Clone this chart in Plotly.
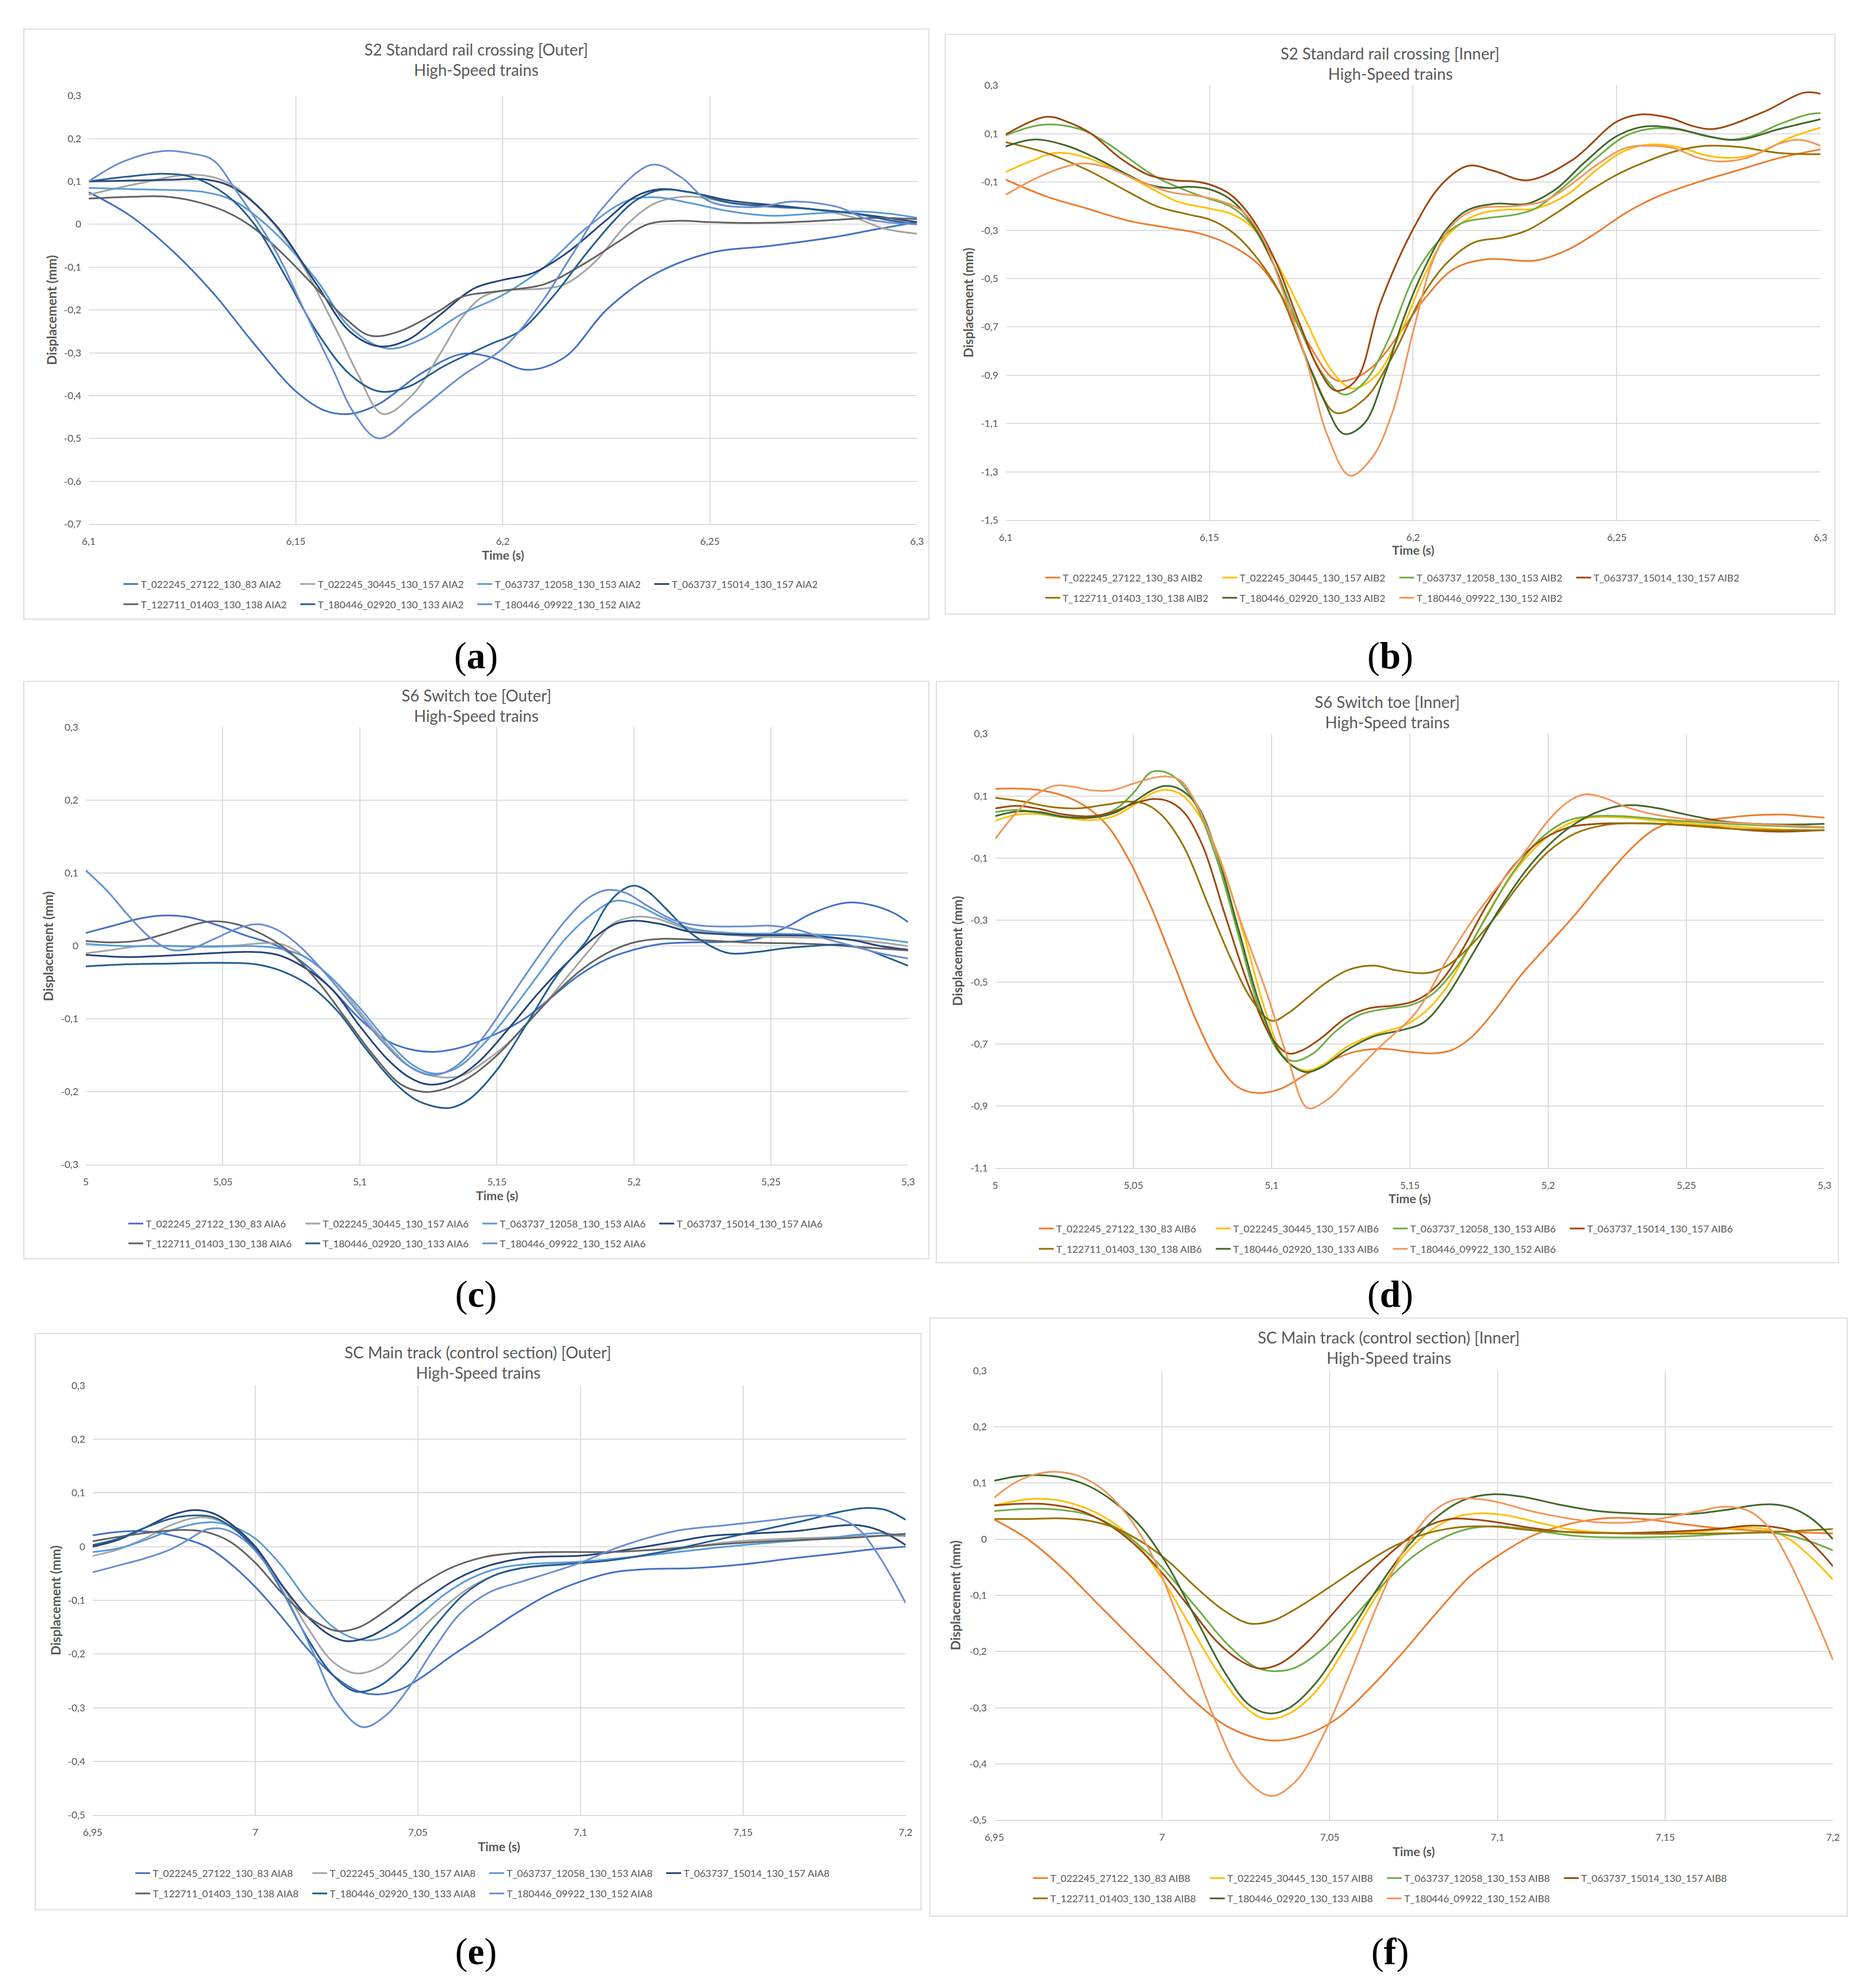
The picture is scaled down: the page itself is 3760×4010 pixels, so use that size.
import plotly.graph_objects as go

W, H = 3760, 4010
# small empirical correction of the page capture (scale/offset)
SX, BX = 0.9917, 17.9
SY, BY = 0.9954, 10.5

# ---------------- data ----------------
TRAIN_IDS = ["T_022245_27122_130_83", "T_022245_30445_130_157", "T_063737_12058_130_153",
             "T_063737_15014_130_157", "T_122711_01403_130_138", "T_180446_02920_130_133",
             "T_180446_09922_130_152"]
OUTER_COLORS = ["#4472C4", "#A5A5A5", "#5B9BD5", "#264478", "#636363", "#255E91", "#698ED0"]
INNER_COLORS = ["#ED7D31", "#FFC000", "#70AD47", "#9E480E", "#997300", "#43682B", "#F1975A"]

# (a) S2 Outer  (time s, displacement mm)
A1 = [(6.1,0.075),(6.11,0.02),(6.12,-0.06),(6.13,-0.16),(6.14,-0.28),(6.15,-0.39),(6.157,-0.435),(6.163,-0.443),(6.17,-0.42),(6.18,-0.35),(6.19,-0.303),(6.197,-0.31),(6.206,-0.34),(6.215,-0.31),(6.225,-0.2),(6.236,-0.12),(6.25,-0.067),(6.265,-0.05),(6.28,-0.03),(6.29,-0.012),(6.3,0.005)]
A2 = [(6.1,0.069),(6.112,0.095),(6.125,0.116),(6.133,0.1),(6.14,0.05),(6.15,-0.07),(6.16,-0.25),(6.165,-0.35),(6.171,-0.443),(6.178,-0.4),(6.185,-0.3),(6.19,-0.22),(6.195,-0.17),(6.2,-0.155),(6.21,-0.15),(6.215,-0.14),(6.222,-0.09),(6.23,0.0),(6.237,0.05),(6.245,0.065),(6.255,0.05),(6.265,0.04),(6.275,0.035),(6.285,0.015),(6.292,-0.01),(6.3,-0.022)]
A3 = [(6.1,0.085),(6.11,0.082),(6.12,0.08),(6.128,0.075),(6.135,0.055),(6.145,-0.02),(6.155,-0.13),(6.163,-0.24),(6.172,-0.29),(6.18,-0.27),(6.19,-0.21),(6.2,-0.165),(6.21,-0.1),(6.22,-0.01),(6.23,0.055),(6.237,0.063),(6.245,0.05),(6.255,0.03),(6.265,0.02),(6.275,0.025),(6.285,0.03),(6.293,0.025),(6.3,0.015)]
A4 = [(6.1,0.1),(6.11,0.102),(6.12,0.104),(6.128,0.105),(6.135,0.085),(6.145,0.0),(6.155,-0.14),(6.163,-0.25),(6.17,-0.285),(6.177,-0.27),(6.185,-0.21),(6.193,-0.15),(6.2,-0.13),(6.207,-0.115),(6.215,-0.07),(6.225,0.01),(6.232,0.065),(6.238,0.082),(6.245,0.075),(6.255,0.055),(6.265,0.045),(6.275,0.035),(6.285,0.025),(6.295,0.012),(6.3,0.005)]
A5 = [(6.1,0.06),(6.11,0.064),(6.118,0.065),(6.125,0.055),(6.133,0.03),(6.14,-0.01),(6.148,-0.08),(6.155,-0.15),(6.162,-0.22),(6.168,-0.26),(6.175,-0.25),(6.185,-0.2),(6.19,-0.17),(6.2,-0.155),(6.21,-0.14),(6.22,-0.09),(6.228,-0.04),(6.235,0.0),(6.242,0.008),(6.25,0.005),(6.26,0.003),(6.27,0.005),(6.28,0.01),(6.29,0.015),(6.3,0.012)]
A6 = [(6.1,0.1),(6.11,0.112),(6.118,0.118),(6.125,0.11),(6.133,0.07),(6.14,0.0),(6.148,-0.13),(6.155,-0.25),(6.163,-0.35),(6.17,-0.39),(6.177,-0.38),(6.186,-0.33),(6.197,-0.28),(6.204,-0.25),(6.212,-0.17),(6.22,-0.07),(6.227,0.01),(6.232,0.055),(6.238,0.08),(6.245,0.075),(6.255,0.05),(6.265,0.042),(6.275,0.035),(6.285,0.025),(6.293,0.01),(6.3,0.0)]
A7 = [(6.1,0.1),(6.108,0.145),(6.118,0.171),(6.125,0.165),(6.13,0.15),(6.1357,0.077),(6.145,-0.06),(6.152,-0.2),(6.159,-0.34),(6.164,-0.44),(6.17,-0.5),(6.179,-0.44),(6.19,-0.355),(6.2,-0.29),(6.209,-0.187),(6.217,-0.067),(6.224,0.037),(6.236,0.139),(6.243,0.11),(6.25,0.053),(6.261,0.04),(6.27,0.053),(6.281,0.04),(6.288,0.012),(6.3,0.0)]

# (b) S2 Inner
B1 = [(6.1,-0.09),(6.11,-0.16),(6.12,-0.21),(6.13,-0.26),(6.14,-0.29),(6.148,-0.315),(6.155,-0.36),(6.162,-0.44),(6.168,-0.58),(6.174,-0.76),(6.181,-0.92),(6.186,-0.91),(6.191,-0.85),(6.197,-0.72),(6.203,-0.58),(6.21,-0.46),(6.218,-0.42),(6.23,-0.425),(6.238,-0.38),(6.245,-0.31),(6.252,-0.23),(6.26,-0.16),(6.27,-0.1),(6.28,-0.05),(6.29,0.0),(6.3,0.035)]
B2 = [(6.1,-0.059),(6.106,-0.015),(6.1125,0.021),(6.12,0.0),(6.127,-0.05),(6.135,-0.12),(6.142,-0.18),(6.15,-0.21),(6.155,-0.23),(6.16,-0.28),(6.166,-0.42),(6.173,-0.65),(6.18,-0.88),(6.185,-0.955),(6.191,-0.9),(6.197,-0.72),(6.203,-0.48),(6.208,-0.33),(6.215,-0.24),(6.222,-0.215),(6.23,-0.21),(6.238,-0.15),(6.245,-0.05),(6.252,0.03),(6.258,0.055),(6.265,0.045),(6.272,0.01),(6.278,0.0),(6.285,0.02),(6.292,0.08),(6.3,0.125)]
B3 = [(6.1,0.093),(6.109,0.137),(6.118,0.12),(6.125,0.06),(6.13,0.0),(6.137,-0.08),(6.145,-0.14),(6.15,-0.17),(6.155,-0.2),(6.16,-0.27),(6.166,-0.45),(6.172,-0.7),(6.178,-0.9),(6.183,-0.98),(6.188,-0.93),(6.194,-0.75),(6.2,-0.5),(6.206,-0.35),(6.212,-0.27),(6.218,-0.25),(6.225,-0.235),(6.23,-0.21),(6.237,-0.12),(6.245,0.0),(6.252,0.09),(6.258,0.12),(6.264,0.12),(6.27,0.1),(6.277,0.075),(6.283,0.09),(6.29,0.14),(6.297,0.18),(6.3,0.185)]
B4 = [(6.1,0.097),(6.11,0.17),(6.115,0.15),(6.121,0.1),(6.128,0.0),(6.135,-0.07),(6.142,-0.094),(6.146,-0.097),(6.15,-0.11),(6.155,-0.15),(6.16,-0.24),(6.166,-0.42),(6.172,-0.68),(6.177,-0.88),(6.181,-0.964),(6.186,-0.92),(6.192,-0.6),(6.2,-0.295),(6.207,-0.11),(6.2135,-0.033),(6.22,-0.055),(6.228,-0.093),(6.239,-0.01),(6.25,0.15),(6.256,0.18),(6.263,0.165),(6.269,0.13),(6.274,0.12),(6.286,0.19),(6.296,0.27),(6.3,0.265)]
B5 = [(6.1,0.065),(6.11,0.02),(6.12,-0.05),(6.13,-0.14),(6.137,-0.2),(6.145,-0.235),(6.15,-0.255),(6.155,-0.3),(6.16,-0.38),(6.167,-0.55),(6.175,-0.88),(6.181,-1.056),(6.188,-1.0),(6.195,-0.82),(6.202,-0.58),(6.208,-0.44),(6.215,-0.35),(6.222,-0.33),(6.228,-0.3),(6.235,-0.23),(6.243,-0.14),(6.25,-0.07),(6.258,-0.01),(6.265,0.03),(6.272,0.05),(6.28,0.045),(6.29,0.02),(6.3,0.015)]
B6 = [(6.1,0.047),(6.107,0.076),(6.115,0.05),(6.122,0.0),(6.13,-0.07),(6.135,-0.11),(6.14,-0.125),(6.145,-0.12),(6.15,-0.13),(6.155,-0.17),(6.16,-0.26),(6.166,-0.45),(6.172,-0.75),(6.178,-1.0),(6.183,-1.143),(6.188,-1.1),(6.193,-0.9),(6.198,-0.65),(6.203,-0.45),(6.208,-0.3),(6.213,-0.22),(6.22,-0.19),(6.228,-0.19),(6.235,-0.13),(6.242,-0.02),(6.25,0.09),(6.257,0.13),(6.265,0.12),(6.272,0.09),(6.28,0.075),(6.29,0.12),(6.3,0.16)]
B7 = [(6.1,-0.153),(6.108,-0.08),(6.115,-0.035),(6.119,-0.023),(6.125,-0.04),(6.132,-0.09),(6.14,-0.14),(6.148,-0.16),(6.153,-0.18),(6.158,-0.22),(6.163,-0.33),(6.168,-0.55),(6.174,-0.85),(6.179,-1.15),(6.1845,-1.316),(6.19,-1.24),(6.195,-1.05),(6.2,-0.72),(6.205,-0.42),(6.21,-0.27),(6.216,-0.21),(6.225,-0.2),(6.232,-0.18),(6.238,-0.12),(6.245,-0.03),(6.252,0.04),(6.258,0.05),(6.264,0.04),(6.27,0.0),(6.275,-0.015),(6.282,0.0),(6.29,0.06),(6.295,0.075),(6.3,0.05)]

# (c) S6 Outer
C1 = [(5.0,0.018),(5.01,0.028),(5.02,0.038),(5.028,0.042),(5.037,0.04),(5.047,0.03),(5.058,0.015),(5.07,0.0),(5.08,-0.025),(5.09,-0.06),(5.1,-0.1),(5.11,-0.13),(5.12,-0.143),(5.128,-0.145),(5.138,-0.138),(5.15,-0.12),(5.16,-0.1),(5.17,-0.07),(5.18,-0.04),(5.19,-0.018),(5.2,-0.005),(5.21,0.003),(5.22,0.005),(5.235,0.006),(5.245,0.01),(5.255,0.025),(5.265,0.045),(5.275,0.058),(5.28,0.06),(5.288,0.055),(5.295,0.045),(5.3,0.033)]
C2 = [(5.0,-0.01),(5.01,-0.005),(5.02,0.0),(5.04,0.0),(5.055,0.001),(5.065,0.004),(5.072,0.002),(5.08,-0.015),(5.09,-0.045),(5.1,-0.09),(5.11,-0.135),(5.12,-0.17),(5.13,-0.18),(5.137,-0.178),(5.145,-0.16),(5.155,-0.13),(5.165,-0.09),(5.175,-0.045),(5.185,0.0),(5.192,0.03),(5.2,0.04),(5.208,0.038),(5.218,0.025),(5.23,0.017),(5.245,0.013),(5.26,0.012),(5.275,0.01),(5.29,0.005),(5.3,0.0)]
C3 = [(5.0,0.003),(5.015,0.0),(5.03,0.0),(5.045,-0.001),(5.06,0.0),(5.07,-0.003),(5.08,-0.015),(5.09,-0.045),(5.1,-0.085),(5.11,-0.13),(5.12,-0.165),(5.127,-0.175),(5.135,-0.168),(5.145,-0.135),(5.155,-0.09),(5.165,-0.04),(5.175,0.01),(5.185,0.045),(5.193,0.062),(5.2,0.058),(5.21,0.04),(5.22,0.025),(5.235,0.018),(5.25,0.017),(5.265,0.016),(5.28,0.014),(5.29,0.01),(5.3,0.005)]
C4 = [(5.0,-0.012),(5.015,-0.015),(5.03,-0.013),(5.045,-0.01),(5.06,-0.008),(5.07,-0.012),(5.08,-0.03),(5.09,-0.06),(5.1,-0.11),(5.11,-0.155),(5.118,-0.18),(5.125,-0.19),(5.133,-0.185),(5.143,-0.16),(5.155,-0.11),(5.165,-0.065),(5.175,-0.025),(5.185,0.01),(5.193,0.03),(5.2,0.035),(5.21,0.03),(5.22,0.02),(5.235,0.016),(5.25,0.015),(5.265,0.014),(5.28,0.008),(5.29,0.0),(5.3,-0.005)]
C5 = [(5.0,0.007),(5.01,0.005),(5.02,0.008),(5.03,0.018),(5.04,0.03),(5.046,0.034),(5.055,0.03),(5.065,0.015),(5.075,-0.01),(5.085,-0.05),(5.095,-0.1),(5.105,-0.15),(5.115,-0.19),(5.123,-0.2),(5.13,-0.197),(5.14,-0.18),(5.15,-0.15),(5.16,-0.11),(5.17,-0.07),(5.18,-0.035),(5.19,-0.01),(5.2,0.005),(5.21,0.01),(5.225,0.008),(5.24,0.005),(5.255,0.004),(5.27,0.002),(5.285,-0.002),(5.3,-0.006)]
C6 = [(5.0,-0.028),(5.015,-0.025),(5.03,-0.024),(5.05,-0.023),(5.062,-0.025),(5.072,-0.035),(5.082,-0.055),(5.092,-0.09),(5.102,-0.14),(5.112,-0.185),(5.12,-0.21),(5.127,-0.22),(5.133,-0.222),(5.14,-0.21),(5.15,-0.17),(5.162,-0.1),(5.172,-0.04),(5.183,0.009),(5.19,0.055),(5.195,0.075),(5.2,0.083),(5.205,0.075),(5.212,0.05),(5.22,0.02),(5.228,0.0),(5.235,-0.01),(5.245,-0.008),(5.255,-0.003),(5.265,0.0),(5.275,0.002),(5.285,-0.005),(5.292,-0.015),(5.3,-0.027)]
C7 = [(5.0,0.104),(5.008,0.075),(5.016,0.04),(5.024,0.01),(5.031,-0.005),(5.038,-0.004),(5.047,0.01),(5.056,0.025),(5.063,0.03),(5.07,0.022),(5.078,0.0),(5.088,-0.04),(5.098,-0.085),(5.108,-0.13),(5.118,-0.165),(5.127,-0.177),(5.135,-0.165),(5.145,-0.125),(5.155,-0.07),(5.165,-0.015),(5.175,0.035),(5.183,0.065),(5.19,0.077),(5.197,0.073),(5.205,0.055),(5.215,0.035),(5.225,0.028),(5.24,0.027),(5.25,0.028),(5.26,0.022),(5.27,0.01),(5.28,0.0),(5.29,-0.01),(5.3,-0.017)]

# (d) S6 Inner
D1 = [(5.0,0.123),(5.007,0.124),(5.015,0.12),(5.025,0.1),(5.032,0.07),(5.04,0.01),(5.048,-0.1),(5.056,-0.25),(5.065,-0.45),(5.073,-0.63),(5.081,-0.77),(5.088,-0.84),(5.095,-0.858),(5.103,-0.845),(5.112,-0.8),(5.12,-0.76),(5.13,-0.725),(5.14,-0.715),(5.15,-0.725),(5.158,-0.73),(5.165,-0.72),(5.172,-0.68),(5.18,-0.6),(5.19,-0.48),(5.2,-0.38),(5.21,-0.28),(5.22,-0.17),(5.23,-0.07),(5.238,-0.01),(5.245,0.015),(5.255,0.02),(5.265,0.03),(5.275,0.038),(5.285,0.04),(5.293,0.035),(5.3,0.03)]
D2 = [(5.0,0.02),(5.008,0.04),(5.015,0.042),(5.025,0.03),(5.035,0.022),(5.043,0.035),(5.05,0.07),(5.057,0.11),(5.062,0.12),(5.068,0.1),(5.075,0.02),(5.082,-0.12),(5.09,-0.35),(5.098,-0.6),(5.105,-0.75),(5.112,-0.785),(5.118,-0.77),(5.127,-0.71),(5.137,-0.67),(5.148,-0.64),(5.155,-0.6),(5.163,-0.52),(5.172,-0.38),(5.18,-0.25),(5.19,-0.12),(5.2,-0.03),(5.21,0.02),(5.218,0.032),(5.228,0.03),(5.24,0.02),(5.255,0.008),(5.27,0.0),(5.285,-0.008),(5.3,-0.01)]
D3 = [(5.0,0.048),(5.008,0.055),(5.016,0.045),(5.025,0.032),(5.035,0.032),(5.043,0.055),(5.05,0.11),(5.056,0.175),(5.06,0.18),(5.065,0.16),(5.072,0.08),(5.08,-0.1),(5.088,-0.35),(5.096,-0.6),(5.103,-0.73),(5.108,-0.755),(5.115,-0.73),(5.123,-0.66),(5.132,-0.605),(5.142,-0.585),(5.15,-0.575),(5.158,-0.54),(5.167,-0.45),(5.177,-0.3),(5.187,-0.15),(5.197,-0.04),(5.207,0.02),(5.217,0.035),(5.227,0.035),(5.24,0.025),(5.255,0.015),(5.27,0.008),(5.285,0.002),(5.3,-0.002)]
D4 = [(5.0,0.06),(5.008,0.068),(5.016,0.058),(5.025,0.04),(5.035,0.035),(5.043,0.05),(5.05,0.075),(5.057,0.09),(5.062,0.085),(5.068,0.05),(5.075,-0.06),(5.083,-0.28),(5.092,-0.52),(5.1,-0.68),(5.106,-0.73),(5.111,-0.72),(5.118,-0.68),(5.127,-0.615),(5.135,-0.585),(5.145,-0.575),(5.152,-0.56),(5.16,-0.51),(5.168,-0.41),(5.178,-0.25),(5.188,-0.12),(5.198,-0.04),(5.208,0.0),(5.218,0.01),(5.23,0.012),(5.245,0.008),(5.26,0.0),(5.275,-0.012),(5.285,-0.015),(5.3,-0.01)]
D5 = [(5.0,0.094),(5.01,0.082),(5.02,0.065),(5.03,0.06),(5.04,0.072),(5.048,0.082),(5.054,0.075),(5.06,0.04),(5.068,-0.06),(5.077,-0.25),(5.085,-0.42),(5.093,-0.56),(5.1,-0.625),(5.106,-0.6),(5.113,-0.55),(5.12,-0.5),(5.128,-0.46),(5.137,-0.447),(5.145,-0.462),(5.156,-0.471),(5.163,-0.45),(5.17,-0.4),(5.18,-0.3),(5.19,-0.18),(5.2,-0.08),(5.21,-0.02),(5.222,0.008),(5.235,0.012),(5.25,0.005),(5.265,-0.005),(5.28,-0.01),(5.3,-0.01)]
D6 = [(5.0,0.035),(5.008,0.05),(5.016,0.048),(5.025,0.033),(5.035,0.03),(5.043,0.045),(5.05,0.08),(5.056,0.115),(5.061,0.132),(5.066,0.125),(5.073,0.07),(5.08,-0.08),(5.088,-0.33),(5.096,-0.58),(5.104,-0.74),(5.112,-0.79),(5.118,-0.775),(5.127,-0.72),(5.137,-0.675),(5.147,-0.655),(5.155,-0.63),(5.163,-0.55),(5.172,-0.42),(5.182,-0.27),(5.192,-0.14),(5.2,-0.06),(5.208,0.0),(5.217,0.045),(5.226,0.068),(5.232,0.07),(5.24,0.06),(5.25,0.04),(5.262,0.02),(5.275,0.01),(5.29,0.008),(5.3,0.01)]
D7 = [(5.0,-0.038),(5.007,0.04),(5.014,0.1),(5.0215,0.133),(5.028,0.13),(5.035,0.118),(5.042,0.118),(5.05,0.14),(5.057,0.158),(5.062,0.163),(5.067,0.15),(5.073,0.07),(5.081,-0.1),(5.089,-0.31),(5.098,-0.53),(5.106,-0.75),(5.113,-0.906),(5.12,-0.88),(5.128,-0.81),(5.139,-0.71),(5.152,-0.6),(5.164,-0.42),(5.175,-0.27),(5.19,-0.1),(5.2,0.02),(5.207,0.08),(5.213,0.105),(5.22,0.095),(5.228,0.065),(5.237,0.043),(5.25,0.025),(5.27,0.012),(5.285,0.005),(5.3,0.0)]

# (e) SC Outer
E1 = [(6.95,0.021),(6.957,0.027),(6.963,0.029),(6.97,0.026),(6.978,0.015),(6.985,0.0),(6.992,-0.03),(7.0,-0.075),(7.008,-0.13),(7.016,-0.19),(7.024,-0.24),(7.032,-0.27),(7.038,-0.275),(7.045,-0.265),(7.052,-0.24),(7.06,-0.205),(7.07,-0.165),(7.08,-0.125),(7.09,-0.09),(7.1,-0.065),(7.11,-0.048),(7.12,-0.042),(7.135,-0.04),(7.15,-0.033),(7.165,-0.022),(7.18,-0.012),(7.19,-0.005),(7.2,0.0)]
E2 = [(6.95,-0.017),(6.958,-0.005),(6.966,0.015),(6.974,0.04),(6.982,0.054),(6.987,0.052),(6.993,0.035),(7.0,0.0),(7.008,-0.07),(7.016,-0.15),(7.024,-0.215),(7.031,-0.236),(7.038,-0.225),(7.046,-0.185),(7.055,-0.13),(7.065,-0.08),(7.075,-0.05),(7.085,-0.037),(7.1,-0.03),(7.115,-0.02),(7.13,-0.005),(7.145,0.008),(7.16,0.014),(7.175,0.017),(7.19,0.02),(7.2,0.02)]
E3 = [(6.95,-0.01),(6.958,-0.003),(6.966,0.012),(6.974,0.03),(6.982,0.043),(6.988,0.045),(6.994,0.035),(7.0,0.015),(7.008,-0.035),(7.016,-0.1),(7.024,-0.15),(7.03,-0.17),(7.036,-0.174),(7.043,-0.16),(7.05,-0.13),(7.058,-0.09),(7.066,-0.06),(7.075,-0.04),(7.085,-0.032),(7.1,-0.028),(7.115,-0.02),(7.13,-0.01),(7.145,0.0),(7.16,0.008),(7.175,0.015),(7.185,0.022),(7.192,0.025),(7.2,0.02)]
E4 = [(6.95,0.0),(6.958,0.013),(6.966,0.035),(6.974,0.058),(6.981,0.068),(6.987,0.062),(6.993,0.04),(7.0,0.0),(7.008,-0.07),(7.016,-0.13),(7.023,-0.165),(7.028,-0.176),(7.035,-0.168),(7.043,-0.14),(7.052,-0.1),(7.062,-0.06),(7.072,-0.035),(7.085,-0.02),(7.1,-0.017),(7.11,-0.01),(7.12,0.0),(7.13,0.01),(7.14,0.02),(7.155,0.025),(7.168,0.03),(7.178,0.038),(7.185,0.04),(7.192,0.03),(7.2,0.003)]
E5 = [(6.95,0.01),(6.96,0.02),(6.97,0.028),(6.978,0.031),(6.985,0.027),(6.992,0.01),(7.0,-0.03),(7.008,-0.085),(7.016,-0.13),(7.025,-0.157),(7.032,-0.15),(7.04,-0.12),(7.05,-0.075),(7.06,-0.04),(7.07,-0.02),(7.08,-0.012),(7.095,-0.01),(7.11,-0.01),(7.125,-0.005),(7.14,0.003),(7.155,0.009),(7.17,0.013),(7.185,0.017),(7.2,0.024)]
E6 = [(6.95,0.003),(6.958,0.015),(6.966,0.035),(6.974,0.052),(6.981,0.058),(6.987,0.055),(6.993,0.035),(7.0,-0.005),(7.008,-0.08),(7.016,-0.17),(7.024,-0.24),(7.031,-0.27),(7.038,-0.26),(7.046,-0.22),(7.055,-0.15),(7.064,-0.09),(7.073,-0.055),(7.082,-0.04),(7.095,-0.033),(7.11,-0.025),(7.125,-0.01),(7.14,0.01),(7.155,0.03),(7.17,0.05),(7.18,0.065),(7.188,0.072),(7.194,0.068),(7.2,0.05)]
E7 = [(6.95,-0.048),(6.958,-0.035),(6.966,-0.022),(6.974,-0.005),(6.98,0.015),(6.985,0.032),(6.99,0.033),(6.996,0.015),(7.003,-0.03),(7.01,-0.1),(7.018,-0.2),(7.025,-0.29),(7.033,-0.336),(7.04,-0.315),(7.047,-0.265),(7.055,-0.19),(7.063,-0.125),(7.072,-0.085),(7.082,-0.065),(7.09,-0.05),(7.1,-0.03),(7.11,-0.005),(7.12,0.015),(7.13,0.03),(7.145,0.04),(7.16,0.05),(7.172,0.058),(7.18,0.052),(7.186,0.03),(7.191,-0.01),(7.196,-0.06),(7.2,-0.105)]

# (f) SC Inner
F1 = [(6.95,0.035),(6.96,0.0),(6.97,-0.05),(6.98,-0.11),(6.99,-0.17),(7.0,-0.23),(7.01,-0.29),(7.02,-0.335),(7.032,-0.358),(7.042,-0.35),(7.052,-0.32),(7.062,-0.265),(7.072,-0.2),(7.082,-0.13),(7.092,-0.065),(7.1,-0.03),(7.11,0.005),(7.12,0.025),(7.13,0.036),(7.137,0.038),(7.145,0.035),(7.155,0.027),(7.165,0.02),(7.178,0.015),(7.19,0.012),(7.2,0.01)]
F2 = [(6.95,0.06),(6.96,0.071),(6.968,0.07),(6.976,0.058),(6.984,0.035),(6.992,-0.005),(7.0,-0.07),(7.008,-0.15),(7.017,-0.24),(7.025,-0.3),(7.031,-0.32),(7.038,-0.31),(7.046,-0.27),(7.055,-0.19),(7.064,-0.1),(7.072,-0.03),(7.08,0.015),(7.088,0.04),(7.095,0.046),(7.103,0.042),(7.112,0.03),(7.122,0.017),(7.135,0.011),(7.15,0.01),(7.163,0.015),(7.173,0.02),(7.18,0.018),(7.187,0.0),(7.194,-0.035),(7.2,-0.072)]
F3 = [(6.95,0.05),(6.96,0.054),(6.968,0.053),(6.977,0.045),(6.985,0.025),(6.993,-0.01),(7.0,-0.05),(7.01,-0.12),(7.02,-0.19),(7.028,-0.228),(7.034,-0.235),(7.04,-0.228),(7.048,-0.195),(7.057,-0.14),(7.066,-0.08),(7.075,-0.03),(7.083,0.0),(7.091,0.018),(7.098,0.023),(7.106,0.02),(7.115,0.012),(7.125,0.005),(7.14,0.003),(7.155,0.005),(7.17,0.01),(7.18,0.012),(7.188,0.005),(7.195,-0.008),(7.2,-0.02)]
F4 = [(6.95,0.06),(6.958,0.063),(6.966,0.062),(6.975,0.052),(6.983,0.03),(6.991,-0.005),(7.0,-0.06),(7.008,-0.12),(7.016,-0.18),(7.023,-0.215),(7.029,-0.23),(7.035,-0.222),(7.043,-0.185),(7.052,-0.125),(7.061,-0.065),(7.07,-0.015),(7.078,0.02),(7.086,0.036),(7.093,0.035),(7.1,0.03),(7.11,0.02),(7.12,0.013),(7.135,0.011),(7.15,0.013),(7.165,0.018),(7.175,0.024),(7.182,0.022),(7.19,0.01),(7.195,-0.015),(7.2,-0.048)]
F5 = [(6.95,0.036),(6.96,0.036),(6.97,0.037),(6.978,0.033),(6.986,0.02),(6.994,-0.005),(7.002,-0.04),(7.01,-0.085),(7.018,-0.125),(7.026,-0.15),(7.033,-0.145),(7.041,-0.12),(7.05,-0.085),(7.06,-0.045),(7.07,-0.01),(7.08,0.012),(7.09,0.022),(7.1,0.022),(7.11,0.016),(7.125,0.012),(7.14,0.01),(7.16,0.01),(7.18,0.012),(7.19,0.015),(7.2,0.018)]
F6 = [(6.95,0.104),(6.957,0.112),(6.963,0.114),(6.97,0.11),(6.978,0.095),(6.986,0.065),(6.994,0.02),(7.002,-0.05),(7.01,-0.14),(7.019,-0.24),(7.026,-0.295),(7.032,-0.31),(7.038,-0.3),(7.046,-0.255),(7.055,-0.175),(7.064,-0.09),(7.073,-0.015),(7.082,0.04),(7.09,0.07),(7.099,0.08),(7.108,0.075),(7.118,0.062),(7.13,0.05),(7.145,0.045),(7.158,0.045),(7.168,0.052),(7.176,0.06),(7.182,0.062),(7.188,0.055),(7.194,0.035),(7.2,0.0)]
F7 = [(6.95,0.074),(6.956,0.1),(6.962,0.115),(6.968,0.12),(6.975,0.113),(6.982,0.09),(6.99,0.04),(6.998,-0.04),(7.006,-0.16),(7.015,-0.31),(7.024,-0.42),(7.0325,-0.457),(7.04,-0.43),(7.048,-0.35),(7.056,-0.24),(7.064,-0.12),(7.072,-0.02),(7.08,0.045),(7.087,0.07),(7.093,0.072),(7.1,0.066),(7.11,0.05),(7.12,0.038),(7.13,0.03),(7.14,0.03),(7.15,0.038),(7.16,0.05),(7.168,0.058),(7.175,0.05),(7.181,0.02),(7.187,-0.04),(7.194,-0.13),(7.2,-0.215)]

# axis ticks
X_TICKS_S2 = [6.1, 6.15, 6.2, 6.25, 6.3]
X_LABELS_S2 = ["6,1", "6,15", "6,2", "6,25", "6,3"]
X_TICKS_S6 = [5.0, 5.05, 5.1, 5.15, 5.2, 5.25, 5.3]
X_LABELS_S6 = ["5", "5,05", "5,1", "5,15", "5,2", "5,25", "5,3"]
X_TICKS_SC = [6.95, 7.0, 7.05, 7.1, 7.15, 7.2]
X_LABELS_SC = ["6,95", "7", "7,05", "7,1", "7,15", "7,2"]
Y_TICKS_A = [0.3, 0.2, 0.1, 0.0, -0.1, -0.2, -0.3, -0.4, -0.5, -0.6, -0.7]
Y_LABELS_A = ["0,3", "0,2", "0,1", "0", "-0,1", "-0,2", "-0,3", "-0,4", "-0,5", "-0,6", "-0,7"]
Y_TICKS_B = [0.3, 0.1, -0.1, -0.3, -0.5, -0.7, -0.9, -1.1, -1.3, -1.5]
Y_LABELS_B = ["0,3", "0,1", "-0,1", "-0,3", "-0,5", "-0,7", "-0,9", "-1,1", "-1,3", "-1,5"]
Y_TICKS_C = [0.3, 0.2, 0.1, 0.0, -0.1, -0.2, -0.3]
Y_LABELS_C = ["0,3", "0,2", "0,1", "0", "-0,1", "-0,2", "-0,3"]
Y_TICKS_D = [0.3, 0.1, -0.1, -0.3, -0.5, -0.7, -0.9, -1.1]
Y_LABELS_D = ["0,3", "0,1", "-0,1", "-0,3", "-0,5", "-0,7", "-0,9", "-1,1"]
Y_TICKS_E = [0.3, 0.2, 0.1, 0.0, -0.1, -0.2, -0.3, -0.4, -0.5]
Y_LABELS_E = ["0,3", "0,2", "0,1", "0", "-0,1", "-0,2", "-0,3", "-0,4", "-0,5"]

# ---------------- layout config (positions in target-picture pixels) ----------------
SANS = "Lato, 'Open Sans', sans-serif"
SERIF = "'Liberation Serif', 'DejaVu Serif', serif"
TXT = "#595959"
GRID = "#D9D9D9"

PANELS = [
    dict(letter="a", series=[A1, A2, A3, A4, A5, A6, A7], colors=OUTER_COLORS, suffix="AIA2",
         title="S2 Standard rail crossing [Outer]", plot=(177, 191, 1849, 1056), border=(46, 56, 1873, 1248),
         xt=X_TICKS_S2, xl=X_LABELS_S2, yt=Y_TICKS_A, yl=Y_LABELS_A, xr=(6.1, 6.3), yr=(-0.7, 0.3),
         ty=(97, 138), ytx=102, xty=1118, legx=242, legy=(1177, 1218), lab=(959, 1322)),
    dict(letter="b", series=[B1, B2, B3, B4, B5, B6, B7], colors=INNER_COLORS, suffix="AIB2",
         title="S2 Standard rail crossing [Inner]", plot=(2028, 170, 3673, 1048), border=(1906, 67, 3702, 1238),
         xt=X_TICKS_S2, xl=X_LABELS_S2, yt=Y_TICKS_B, yl=Y_LABELS_B, xr=(6.1, 6.3), yr=(-1.5, 0.3),
         ty=(105, 146), ytx=1952, xty=1108, legx=2103, legy=(1164, 1205), lab=(2804, 1322)),
    dict(letter="c", series=[C1, C2, C3, C4, C5, C6, C7], colors=OUTER_COLORS, suffix="AIA6",
         title="S6 Switch toe [Outer]", plot=(171, 1467, 1831, 2350), border=(46, 1374, 1873, 2540),
         xt=X_TICKS_S6, xl=X_LABELS_S6, yt=Y_TICKS_C, yl=Y_LABELS_C, xr=(5.0, 5.3), yr=(-0.3, 0.3),
         ty=(1402, 1443), ytx=95, xty=2412, legx=252, legy=(2469, 2509), lab=(959, 2612)),
    dict(letter="d", series=[D1, D2, D3, D4, D5, D6, D7], colors=INNER_COLORS, suffix="AIB6",
         title="S6 Switch toe [Inner]", plot=(2007, 1480, 3681, 2357), border=(1888, 1374, 3709, 2548),
         xt=X_TICKS_S6, xl=X_LABELS_S6, yt=Y_TICKS_D, yl=Y_LABELS_D, xr=(5.0, 5.3), yr=(-1.1, 0.3),
         ty=(1415, 1456), ytx=1931, xty=2418, legx=2090, legy=(2479, 2520), lab=(2804, 2612)),
    dict(letter="e", series=[E1, E2, E3, E4, E5, E6, E7], colors=OUTER_COLORS, suffix="AIA8",
         title="SC Main track (control section) [Outer]", plot=(185, 2796, 1826, 3664), border=(69, 2691, 1857, 3855),
         xt=X_TICKS_SC, xl=X_LABELS_SC, yt=Y_TICKS_E, yl=Y_LABELS_E, xr=(6.95, 7.2), yr=(-0.5, 0.3),
         ty=(2729, 2770), ytx=110, xty=3727, legx=266, legy=(3781, 3822), lab=(959, 3939)),
    dict(letter="f", series=[F1, F2, F3, F4, F5, F6, F7], colors=INNER_COLORS, suffix="AIB8",
         title="SC Main track (control section) [Inner]", plot=(2005, 2766, 3698, 3674), border=(1875, 2660, 3727, 3868),
         xt=X_TICKS_SC, xl=X_LABELS_SC, yt=Y_TICKS_E, yl=Y_LABELS_E, xr=(6.95, 7.2), yr=(-0.5, 0.3),
         ty=(2699, 2740), ytx=1926, xty=3737, legx=2078, legy=(3791, 3832), lab=(2804, 3939)),
]

fig = go.Figure()
layout = dict(width=W, height=H, margin=dict(l=0, r=0, t=0, b=0),
              paper_bgcolor="white", plot_bgcolor="white", showlegend=True)
annotations, shapes = [], []

def fx(px):
    return ((px - BX) / SX) / W

def fy(py):
    return 1 - ((py - BY) / SY) / H

for i, p in enumerate(PANELS):
    n = i + 1
    xa = "xaxis" if n == 1 else f"xaxis{n}"
    ya = "yaxis" if n == 1 else f"yaxis{n}"
    xref = "x" if n == 1 else f"x{n}"
    yref = "y" if n == 1 else f"y{n}"
    x0, y0, x1, y1 = p["plot"]
    layout[xa] = dict(domain=[fx(x0), fx(x1)], range=list(p["xr"]), anchor=yref,
                      tickvals=p["xt"], ticktext=p["xl"], showgrid=True, gridcolor=GRID, gridwidth=2,
                      zeroline=False, showline=True, linecolor=GRID, linewidth=2,
                      ticks="", ticklabelstandoff=16,
                      tickfont=dict(family=SANS, size=20, color=TXT), fixedrange=True)
    layout[ya] = dict(domain=[fy(y1), fy(y0)], range=list(p["yr"]), anchor=xref,
                      tickvals=p["yt"], ticktext=p["yl"], showgrid=True, gridcolor=GRID, gridwidth=2,
                      zeroline=False, showline=False, ticks="", ticklabelstandoff=14,
                      tickfont=dict(family=SANS, size=20, color=TXT), fixedrange=True)
    leg1 = f"legend{2 * i + 1}" if i > 0 else "legend"
    leg2 = f"legend{2 * i + 2}"
    for k, pts in enumerate(p["series"]):
        fig.add_trace(go.Scatter(
            x=[t for t, _ in pts], y=[v for _, v in pts], mode="lines",
            name=f"{TRAIN_IDS[k]} {p['suffix']}",
            line=dict(color=p["colors"][k], width=3.5, shape="spline", smoothing=1.0),
            xaxis=xref, yaxis=yref, legend=leg1 if k < 4 else leg2, hoverinfo="skip"))
    for leg, ly in ((leg1, p["legy"][0]), (leg2, p["legy"][1])):
        layout[leg] = dict(x=fx(p["legx"]), y=fy(ly), xanchor="left", yanchor="middle",
                           orientation="h", entrywidth=312, entrywidthmode="pixels",
                           bgcolor="rgba(0,0,0,0)", borderwidth=0, itemwidth=30,
                           font=dict(family=SANS, size=20, color=TXT), tracegroupgap=0)
    bx0, by0, bx1, by1 = p["border"]
    shapes.append(dict(type="rect", xref="paper", yref="paper", x0=fx(bx0), x1=fx(bx1), y0=fy(by1), y1=fy(by0),
                       line=dict(color=GRID, width=2), fillcolor="rgba(0,0,0,0)", layer="below"))
    cx = (bx0 + bx1) / 2
    annotations.append(dict(text=p["title"], x=fx(cx), y=fy(p["ty"][0]), xref="paper", yref="paper",
                            showarrow=False, xanchor="center", yanchor="middle",
                            font=dict(family=SANS, size=32, color=TXT)))
    annotations.append(dict(text="High-Speed trains", x=fx(cx), y=fy(p["ty"][1]), xref="paper", yref="paper",
                            showarrow=False, xanchor="center", yanchor="middle",
                            font=dict(family=SANS, size=32, color=TXT)))
    annotations.append(dict(text="<b>Time (s)</b>", x=fx((x0 + x1) / 2), y=fy(p["xty"]), xref="paper", yref="paper",
                            showarrow=False, xanchor="center", yanchor="middle",
                            font=dict(family=SANS, size=25, color=TXT)))
    annotations.append(dict(text="<b>Displacement (mm)</b>", x=fx(p["ytx"]), y=fy((y0 + y1) / 2), xref="paper",
                            yref="paper", showarrow=False, xanchor="center", yanchor="middle", textangle=-90,
                            font=dict(family=SANS, size=26, color=TXT)))
    annotations.append(dict(text=f"(<b>{p['letter']}</b>)", x=fx(p["lab"][0]), y=fy(p["lab"][1]), xref="paper",
                            yref="paper", showarrow=False, xanchor="center", yanchor="middle",
                            font=dict(family=SERIF, size=76, color="#000000")))

layout["annotations"] = annotations
layout["shapes"] = shapes
fig.update_layout(**layout)
fig.write_html("out.html")
